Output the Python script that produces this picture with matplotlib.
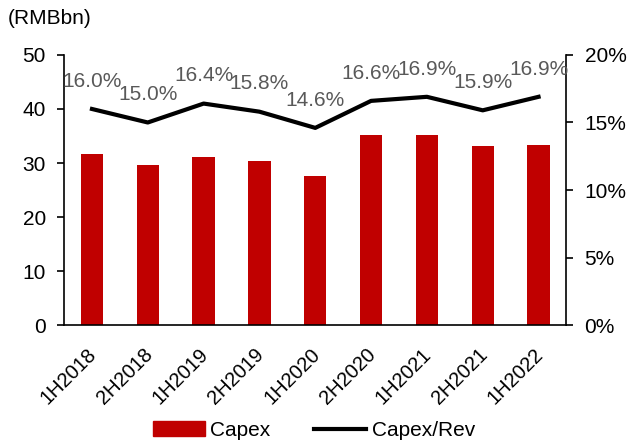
import matplotlib
matplotlib.use("Agg")
import matplotlib.pyplot as plt
import matplotlib.transforms as mtransforms
from matplotlib.patches import Patch
from matplotlib.lines import Line2D

plt.rcParams['font.family'] = ['Liberation Sans', 'DejaVu Sans']

categories = ["1H2018", "2H2018", "1H2019", "2H2019", "1H2020",
              "2H2020", "1H2021", "2H2021", "1H2022"]
capex = [31.6, 29.6, 31.1, 30.4, 27.6, 35.1, 35.2, 33.1, 33.4]
capex_rev = [16.0, 15.0, 16.4, 15.8, 14.6, 16.6, 16.9, 15.9, 16.9]
left_ticks = [0, 10, 20, 30, 40, 50]
right_ticks = [0, 5, 10, 15, 20]

FS = 15
fig = plt.figure(figsize=(6.28, 4.43), dpi=100)
ax = fig.add_axes([0.102, 0.266, 0.800, 0.610])
x = list(range(len(categories)))
ax.bar(x, capex, width=0.4, color="#C00000", zorder=2)
ax.set_xlim(-0.5, len(categories) - 0.5)
ax.set_ylim(0, 50)
ax.set_yticks(left_ticks)
ax.set_yticklabels([str(t) for t in left_ticks], fontsize=FS)
ax.set_xticks(x)
ax.set_xticklabels(categories, rotation=45, ha="right", rotation_mode="anchor", fontsize=14.5)
ax.tick_params(axis="x", length=0, pad=13)
offset = mtransforms.ScaledTranslation(-5 / 100, -2 / 100, fig.dpi_scale_trans)
for lbl in ax.get_xticklabels():
    lbl.set_transform(lbl.get_transform() + offset)
ax.tick_params(axis="y", direction="out", length=5, width=1.2, pad=8)
ax.spines["top"].set_visible(False)
ax.spines["right"].set_visible(False)
ax.spines["left"].set_linewidth(1.2)
ax.spines["bottom"].set_linewidth(1.2)

ax2 = ax.twinx()
ax2.plot(x, capex_rev, color="black", lw=3, zorder=3)
ax2.set_ylim(0, 20)
ax2.set_yticks(right_ticks)
ax2.set_yticklabels([f"{t}%" for t in right_ticks], fontsize=FS)
ax2.tick_params(axis="y", direction="out", length=5, width=1.2, pad=8)
for s in ["top", "left", "bottom"]:
    ax2.spines[s].set_visible(False)
ax2.spines["right"].set_linewidth(1.2)
for xi, v in zip(x, capex_rev):
    ax2.annotate(f"{v:.1f}%", (xi, v), xytext=(0, 20), textcoords="offset points",
                 ha="center", va="center", fontsize=FS, color="#595959")

fig.text(0.012, 0.958, "(RMBbn)", fontsize=FS, ha="left", va="center")

handles = [Patch(color="#C00000", label="Capex"),
           Line2D([], [], color="black", lw=3, label="Capex/Rev")]
fig.legend(handles=handles, loc="center", bbox_to_anchor=(0.5, 0.028), ncol=2,
           frameon=False, fontsize=FS, handlelength=2.5, handleheight=0.75,
           handletextpad=0.25, columnspacing=2.1)

fig.savefig("out.png", dpi=100)
